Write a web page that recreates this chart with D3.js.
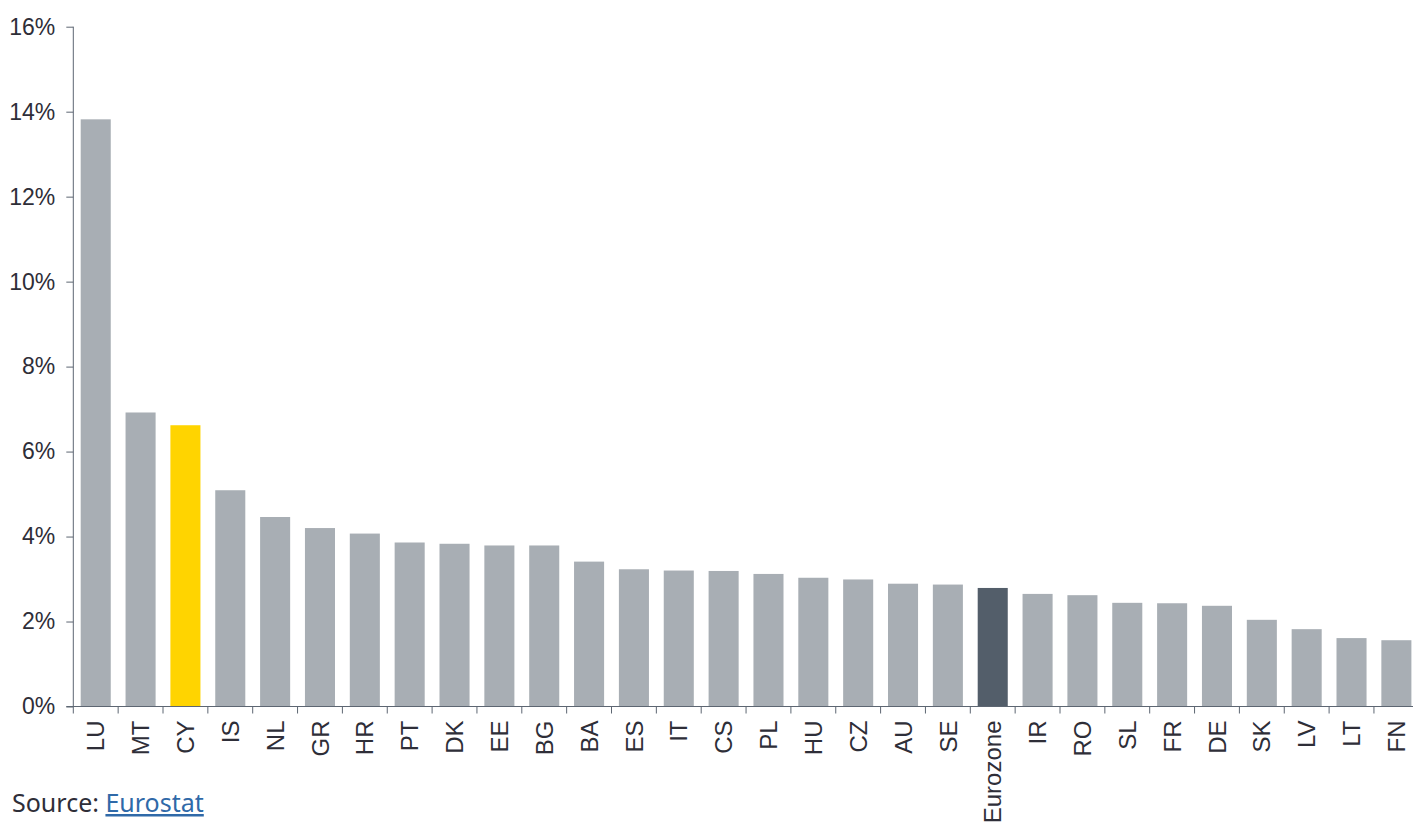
<!DOCTYPE html>
<html>
<head>
<meta charset="utf-8">
<script src="https://cdn.jsdelivr.net/npm/d3@7"></script>
<style>
  html, body { margin: 0; padding: 0; background: #fff; }
  svg { display: block; font-family: "Noto Sans", "Open Sans", sans-serif; }
</style>
</head>
<body>
<svg id="chart" width="1413" height="827"></svg>
<script>
// Country codes, ordered by value
const categories = ["LU","MT","CY","IS","NL","GR","HR","PT","DK","EE","BG","BA","ES","IT","CS","PL","HU","CZ","AU","SE","Eurozone","IR","RO","SL","FR","DE","SK","LV","LT","FN"];
// Values in percent
const values = [13.82,6.92,6.62,5.09,4.46,4.20,4.07,3.86,3.83,3.79,3.79,3.41,3.23,3.20,3.19,3.12,3.03,2.99,2.89,2.87,2.79,2.65,2.62,2.44,2.43,2.37,2.04,1.82,1.61,1.56];
const highlight = { "CY": "#ffd400", "Eurozone": "#535e6a" };
const yTicks = [0,2,4,6,8,10,12,14,16];
const sourceLabel = "Source: ";
const sourceLink = "Eurostat";

(function () {
  const data = categories.map((c, i) => ({ name: c, value: values[i] }));

  const svg = d3.select("#chart");
  const mLeft = 73.3, mRight = 1418.8, mTop = 26.7, mBottom = 706.5;
  const axisColor = "#5d6672";
  const textColor = "#2e2e38";

  const x = d3.scaleBand()
    .domain(categories)
    .range([mLeft, mRight])
    .paddingInner(0.33)
    .paddingOuter(0.165);

  const y = d3.scaleLinear()
    .domain([0, 16])
    .range([mBottom, mTop]);

  // Bars
  svg.append("g")
    .selectAll("rect")
    .data(data)
    .join("rect")
    .attr("x", d => x(d.name))
    .attr("y", d => y(d.value))
    .attr("width", x.bandwidth())
    .attr("height", d => y(0) - y(d.value))
    .attr("fill", d => highlight[d.name] || "#a8aeb4");

  // Y axis
  const yAxis = svg.append("g")
    .attr("transform", `translate(${mLeft},0)`)
    .call(d3.axisLeft(y)
      .tickValues(yTicks)
      .tickSize(7)
      .tickPadding(11)
      .tickFormat(d => d + "%"));
  yAxis.select(".domain").remove();
  yAxis.append("line")
    .attr("x1", 0).attr("x2", 0)
    .attr("y1", y(16)).attr("y2", y(0))
    .attr("stroke", axisColor);
  yAxis.selectAll(".tick line").attr("stroke", axisColor);
  yAxis.selectAll(".tick text")
    .attr("fill", textColor)
    .style("font-size", "23px");

  // X axis: baseline, boundary ticks, rotated labels
  const xg = svg.append("g");
  xg.append("line")
    .attr("x1", mLeft - 7).attr("x2", 1413)
    .attr("y1", y(0)).attr("y2", y(0))
    .attr("stroke", axisColor);
  const step = x.step();
  xg.selectAll("line.bt")
    .data(d3.range(categories.length + 1))
    .join("line")
    .attr("class", "bt")
    .attr("x1", i => mLeft + i * step)
    .attr("x2", i => mLeft + i * step)
    .attr("y1", y(0))
    .attr("y2", y(0) + 7)
    .attr("stroke", axisColor);

  const xAxis = svg.append("g")
    .attr("transform", `translate(0,${mBottom})`)
    .call(d3.axisBottom(x).tickSize(0).tickPadding(0));
  xAxis.select(".domain").remove();
  xAxis.selectAll(".tick text")
    .attr("transform", "rotate(-90)")
    .attr("text-anchor", "end")
    .attr("x", -14)
    .attr("y", 0)
    .attr("dy", "0.36em")
    .attr("fill", textColor)
    .style("font-size", "24px");

  // Source note
  const src = svg.append("text")
    .attr("x", 12)
    .attr("y", 812)
    .attr("fill", textColor)
    .style("font-size", "25px");
  src.append("tspan").text(sourceLabel);
  src.append("tspan")
    .attr("fill", "#2f69a8")
    .attr("text-decoration", "underline")
    .text(sourceLink);
})();
</script>
</body>
</html>
